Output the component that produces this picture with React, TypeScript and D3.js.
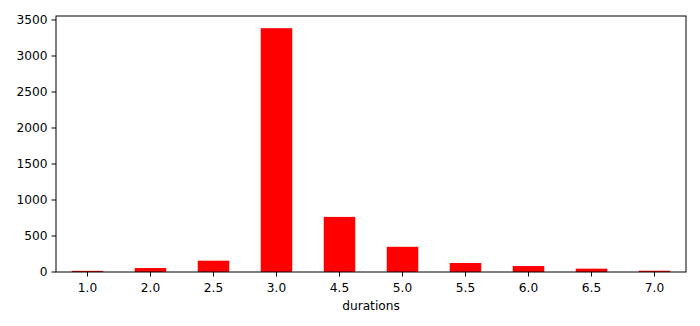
import React from "react";
import * as d3 from "d3";

const categories = ["1.0", "2.0", "2.5", "3.0", "4.5", "5.0", "5.5", "6.0", "6.5", "7.0"];
const counts = [16, 55, 157, 3386, 765, 350, 125, 83, 46, 18];
const yTicks = [0, 500, 1000, 1500, 2000, 2500, 3000, 3500];
const xLabel = "durations";

const W = 700, H = 326;
const left = 56, right = 686, top = 16, bottom = 272;

export default function App() {
  const x = d3.scaleBand<string>().domain(categories).range([left, right]).paddingInner(0.5).paddingOuter(0.25);
  const y = d3.scaleLinear().domain([0, d3.max(counts)! * 1.05]).range([bottom, top]);
  const font = "'DejaVu Sans', sans-serif";
  const fs = 12.2;
  return (
    <svg width={W} height={H} style={{ position: "absolute", left: 0, top: 0 }} fontFamily={font}>
      <rect x={0} y={0} width={W} height={H} fill="#fff" />
      {categories.map((c, i) => (
        <rect key={c} x={x(c)} y={y(counts[i])} width={x.bandwidth()} height={bottom - y(counts[i])} fill="#ff0000" />
      ))}
      <rect x={left} y={top} width={right - left} height={bottom - top} fill="none" stroke="#000" strokeWidth={1} />
      {yTicks.map((t) => (
        <g key={t}>
          <line x1={left - 4.5} x2={left} y1={y(t)} y2={y(t)} stroke="#000" strokeWidth={1} />
          <text x={left - 8.5} y={y(t)} dy="0.36em" textAnchor="end" fontSize={fs} fill="#000">{t}</text>
        </g>
      ))}
      {categories.map((c) => {
        const cx = x(c)! + x.bandwidth() / 2;
        return (
          <g key={c}>
            <line x1={cx} x2={cx} y1={bottom} y2={bottom + 4.5} stroke="#000" strokeWidth={1} />
            <text x={cx} y={bottom + 19.5} textAnchor="middle" fontSize={fs} fill="#000">{c}</text>
          </g>
        );
      })}
      <text x={(left + right) / 2} y={bottom + 37.5} textAnchor="middle" fontSize={fs} fill="#000">{xLabel}</text>
    </svg>
  );
}
